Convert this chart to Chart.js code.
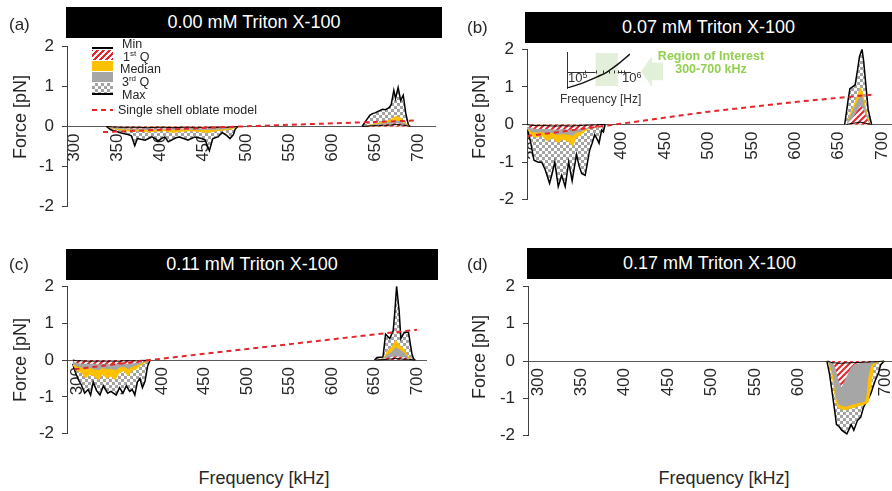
<!DOCTYPE html>
<html><head><meta charset="utf-8">
<script src="https://cdn.jsdelivr.net/npm/chart.js@4.4.1/dist/chart.umd.min.js"></script>
<style>
html,body{margin:0;padding:0;background:#fff;width:892px;height:491px;overflow:hidden;position:relative;font-family:'Liberation Sans',Arial,sans-serif;color:#262626}
canvas{position:absolute}
.t{position:absolute;white-space:nowrap;line-height:1.15}
.bar{position:absolute;background:#000;color:#fff;font-size:18px;display:flex;align-items:center;justify-content:center}
.lab{font-size:17px;transform:translateY(-50%)}
.ylab{font-size:18px;transform:translate(-50%,-50%) rotate(-90deg)}
.xlab{font-size:18px;transform:translate(-50%,-50%)}
.leg{font-size:12.5px;transform:translateY(-50%)}
.leg sup{font-size:8px;vertical-align:5px;line-height:0}
.sw{position:absolute;left:92px;width:21px}
</style>
</head><body>
<script>
// ---------- shared ticks ----------
const xTicks=[300,350,400,450,500,550,600,650,700];
const yTicks=[-2,-1,0,1,2];

// ---------- (a) 0.00 mM ----------
const aNegMaxF=[337,342,347,352,358,362,366,370,373,377,382,386,390,394,397,401,405,409,413,418,422,427,432,436,440,444,448,452,457,461,464,467,472,477,481,485,487,490];
const aNegMaxV=[0,-0.08,-0.11,-0.15,-0.18,-0.2,-0.23,-0.48,-0.3,-0.32,-0.34,-0.3,-0.26,-0.3,-0.37,-0.3,-0.26,-0.38,-0.34,-0.28,-0.26,-0.3,-0.34,-0.3,-0.26,-0.28,-0.3,-0.34,-0.6,-0.3,-0.28,-0.26,-0.15,-0.22,-0.3,-0.2,-0.07,0];
const aNegQF=[337,345,355,365,375,385,395,405,415,425,435,445,455,465,475,485,490];
const aNegMin=[0,-0.01,-0.02,-0.02,-0.02,-0.03,-0.02,-0.02,-0.03,-0.02,-0.02,-0.03,-0.02,-0.02,-0.02,-0.01,0];
const aNegQ1=[0,-0.03,-0.04,-0.05,-0.05,-0.04,-0.05,-0.05,-0.04,-0.05,-0.04,-0.05,-0.05,-0.04,-0.04,-0.02,0];
const aNegMed=[0,-0.07,-0.1,-0.13,-0.12,-0.15,-0.13,-0.12,-0.16,-0.13,-0.12,-0.14,-0.16,-0.12,-0.1,-0.06,0];
const aNegQ3=[0,-0.05,-0.07,-0.08,-0.08,-0.09,-0.08,-0.08,-0.09,-0.08,-0.08,-0.09,-0.09,-0.08,-0.07,-0.04,0];
const aPosMaxF=[635,640,644,647,650,653,656,659,662,665,667,669,672,674,677,680,683,686,689,691];
const aPosMaxV=[0,0.16,0.28,0.32,0.34,0.37,0.4,0.43,0.42,0.45,0.48,0.55,0.9,0.7,0.97,0.65,0.78,0.32,0.04,0];
const aPosQF=[636,642,648,654,660,665,670,675,680,685,689,691];
const aPosMin=[0,0.01,0.02,0.02,0.03,0.03,0.04,0.05,0.04,0.03,0.01,0];
const aPosQ1=[0,0.02,0.03,0.04,0.05,0.06,0.07,0.08,0.07,0.05,0.02,0];
const aPosMed=[0,0.04,0.07,0.1,0.12,0.15,0.2,0.27,0.22,0.12,0.03,0];
const aPosQ3=[0,0.03,0.05,0.07,0.08,0.1,0.12,0.15,0.13,0.08,0.02,0];
const aModelF=[333,492,700];
const aModelV=[-0.14,0,0.15];

// ---------- (b) 0.07 mM ----------
const bNegMaxF=[291,295,299,304,308,312,317,320,323,327,331,335,339,343,348,351,354,358,360,363,366,369,372,374,377,379,381];
const bNegMaxV=[-0.05,-0.45,-0.95,-1.0,-1.0,-1.2,-1.56,-1.3,-1.0,-1.65,-1.35,-1.65,-1.0,-1.5,-0.8,-1.1,-1.3,-1.35,-1.1,-0.7,-0.5,-0.27,-0.4,-0.5,-0.15,-0.2,0];
const bNegQF=[291,296,302,308,314,320,326,332,338,344,348,352,356,360,365,370,375,381];
const bNegMin=[0,-0.02,-0.03,-0.03,-0.03,-0.04,-0.04,-0.03,-0.04,-0.04,-0.03,-0.03,-0.02,-0.02,-0.01,-0.01,0,0];
const bNegQ1=[-0.05,-0.1,-0.12,-0.12,-0.12,-0.13,-0.14,-0.12,-0.14,-0.14,-0.13,-0.12,-0.1,-0.09,-0.08,-0.08,-0.05,0];
const bNegMed=[-0.12,-0.3,-0.35,-0.3,-0.45,-0.35,-0.5,-0.4,-0.45,-0.58,-0.35,-0.3,-0.22,-0.15,-0.1,-0.09,-0.06,0];
const bNegQ3=[-0.1,-0.2,-0.22,-0.2,-0.25,-0.22,-0.28,-0.25,-0.27,-0.3,-0.22,-0.2,-0.15,-0.12,-0.09,-0.085,-0.055,0];
const bPosMaxF=[657,661,663,666,669,672,674,677,679,682,684,688];
const bPosMaxV=[0,0.66,0.95,1.0,1.05,1.48,1.8,2.0,1.65,0.9,0.4,0];
const bPosQF=[659,663,667,671,675,678,681,684,687];
const bPosMin=[0,0.02,0.03,0.05,0.06,0.05,0.03,0.02,0];
const bPosQ1=[0,0.1,0.2,0.35,0.5,0.45,0.25,0.08,0];
const bPosMed=[0,0.3,0.5,0.75,1.0,0.85,0.5,0.2,0];
const bPosQ3=[0,0.22,0.4,0.6,0.78,0.7,0.4,0.12,0];
const bModelF=[291,383,500,600,688];
const bModelV=[-0.31,-0.03,0.34,0.6,0.79];

// ---------- (c) 0.11 mM ----------
const cNegMaxF=[295,298,302,305,309,313,316,319,323,327,331,336,340,346,350,354,358,362,365,368,371,374,377,380,383,386];
const cNegMaxV=[-0.1,-0.33,-0.55,-0.67,-0.9,-0.8,-0.95,-0.6,-0.83,-0.95,-0.7,-0.9,-0.85,-0.95,-0.75,-0.9,-0.7,-0.85,-0.8,-0.95,-0.6,-0.5,-0.75,-0.58,-0.17,0];
const cNegQF=[295,300,305,310,315,320,325,330,335,340,345,350,355,360,365,370,375,380,386];
const cNegMin=[0,-0.02,-0.02,-0.03,-0.03,-0.03,-0.03,-0.03,-0.03,-0.03,-0.03,-0.03,-0.02,-0.02,-0.02,-0.02,-0.01,-0.01,0];
const cNegQ1=[-0.05,-0.08,-0.1,-0.1,-0.11,-0.1,-0.12,-0.1,-0.11,-0.12,-0.1,-0.11,-0.1,-0.1,-0.09,-0.08,-0.06,-0.04,0];
const cNegMed=[-0.15,-0.3,-0.35,-0.5,-0.4,-0.45,-0.55,-0.4,-0.5,-0.45,-0.55,-0.35,-0.3,-0.45,-0.3,-0.25,-0.15,-0.08,0];
const cNegQ3=[-0.1,-0.18,-0.2,-0.25,-0.22,-0.25,-0.28,-0.22,-0.26,-0.24,-0.28,-0.2,-0.18,-0.25,-0.18,-0.15,-0.1,-0.05,0];
const cPosMaxF=[650,653,660,663,668,672,674,676,679,681,685,690,694,696,698];
const cPosMaxV=[0,0.07,0.08,0.7,0.58,0.8,1.33,2.0,1.33,0.58,0.75,0.75,0.17,0.03,0];
const cPosQF=[652,660,665,670,675,680,685,690,694,697];
const cPosMin=[0,0.01,0.02,0.03,0.04,0.03,0.02,0.02,0.01,0];
const cPosQ1=[0,0.03,0.06,0.08,0.1,0.09,0.07,0.05,0.02,0];
const cPosMed=[0,0.05,0.25,0.35,0.55,0.4,0.3,0.1,0.03,0];
const cPosQ3=[0,0.04,0.15,0.22,0.35,0.28,0.2,0.06,0.02,0];
const cModelF=[297,386,500,600,700];
const cModelV=[-0.25,0,0.3,0.56,0.82];

// ---------- (d) 0.17 mM ----------
const dNegMaxF=[633,636,638,640,642,644,647,650,653,656,659,661,664,668,672,675,678,681,684,686,689,692,695,699];
const dNegMaxV=[0,-0.35,-0.68,-1.0,-1.34,-1.7,-1.75,-1.85,-1.9,-1.95,-1.8,-1.7,-1.85,-1.6,-1.5,-1.25,-1.1,-1.0,-0.85,-0.7,-0.5,-0.35,-0.1,0];
const dNegQF=[634,637,640,643,646,650,655,660,665,670,675,678,681,684,687,690,695,699];
const dNegMin=[0,-0.03,-0.05,-0.05,-0.06,-0.06,-0.05,-0.05,-0.04,-0.04,-0.03,-0.03,-0.03,-0.02,-0.02,-0.02,-0.01,0];
const dNegQ1=[0,-0.02,-0.05,-0.2,-0.5,-0.7,-0.45,-0.2,-0.08,-0.06,-0.05,-0.04,-0.04,-0.03,-0.02,-0.02,-0.01,0];
const dNegMed=[-0.05,-0.25,-0.6,-1.1,-1.25,-1.3,-1.32,-1.28,-1.25,-1.2,-1.18,-1.15,-1.1,-0.7,-0.15,-0.06,-0.03,-0.02];
const dNegQ3=[-0.03,-0.15,-0.4,-0.95,-1.15,-1.2,-1.22,-1.18,-1.15,-1.12,-1.1,-1.05,-0.4,-0.12,-0.06,-0.04,-0.02,-0.01];

// ---------- inset (b) ----------
const insetF=[1e5,1.85e5,3.16e5,4.64e5,6.8e5,1.12e6];
const insetV=[-0.5,-0.33,-0.13,0.03,0.27,0.63];
const insetTicks=[2e5,3e5,4e5,5e5,6e5,7e5,8e5,9e5];
const roiBand=[3e5,7e5];

Chart.defaults.font.family="'Liberation Sans', Arial, sans-serif";

function mkPattern(draw,size){const c=document.createElement('canvas');c.width=c.height=size;const g=c.getContext('2d');draw(g,size);return g.createPattern(c,'repeat');}
const HATCH=mkPattern((g,s)=>{g.fillStyle='#fff';g.fillRect(0,0,s,s);g.strokeStyle='#e3262b';g.lineWidth=2;g.beginPath();
  g.moveTo(-1,s+1);g.lineTo(s+1,-1);g.moveTo(-s/2-1,s/2+1);g.lineTo(s/2+1,-s/2-1);g.moveTo(s/2-1,s*1.5+1);g.lineTo(s*1.5+1,s/2-1);g.stroke();},6);
const CHECK=mkPattern((g,s)=>{g.fillStyle='#fff';g.fillRect(0,0,s,s);g.fillStyle='#a3a3a3';g.fillRect(0,0,3,3);g.fillRect(3,3,3,3);},6);

function pts(f,v){return f.map((x,i)=>({x:x,y:v[i]}));}
function region(maxF,maxV,qF,minV,q1V,q3V,medV){
  return [
    {data:pts(qF,minV),borderColor:'#000',borderWidth:1,fill:false},
    {data:pts(qF,q1V),borderWidth:0,borderColor:'rgba(0,0,0,0)',backgroundColor:HATCH,fill:'origin'},
    {data:pts(qF,q3V),borderWidth:0,borderColor:'rgba(0,0,0,0)',backgroundColor:'#a6a6a6',fill:'origin'},
    {data:pts(qF,medV),borderWidth:0,borderColor:'rgba(0,0,0,0)',backgroundColor:'#ffc000',fill:'origin'},
    {data:pts(maxF,maxV),borderColor:'#000',borderWidth:1.5,backgroundColor:CHECK,fill:'origin'}
  ];
}
function model(f,v){return {data:pts(f,v),borderColor:'#e3262b',borderWidth:2,borderDash:[5,4],fill:false};}

function panel(spec){
  const YW=45,PT=12,PB=12,PR=22;
  const cv=document.createElement('canvas');
  const w=spec.right-spec.left+YW+PR,h=spec.bottom-spec.top+PT+PB;
  cv.width=w;cv.height=h;cv.style.width=w+'px';cv.style.height=h+'px';
  cv.style.left=(spec.left-YW)+'px';cv.style.top=(spec.top-PT)+'px';
  document.body.appendChild(cv);
  new Chart(cv,{type:'line',data:{datasets:spec.datasets},options:{
    responsive:false,animation:false,
    layout:{padding:{left:0,top:PT,right:PR,bottom:PB}},
    plugins:{legend:{display:false},tooltip:{enabled:false}},
    elements:{point:{radius:0},line:{tension:0}},
    scales:{
      x:{type:'linear',position:{y:0},min:spec.xmin,max:spec.xmax,
        afterBuildTicks:s=>{s.ticks=xTicks.map(v=>({value:v}));},
        grid:{display:false,drawTicks:false},border:{color:'#595959',width:1},
        ticks:{minRotation:90,maxRotation:90,padding:7,autoSkip:false,color:'#262626',font:{size:17}},z:1},
      y:{type:'linear',min:-2,max:2,
        afterBuildTicks:s=>{s.ticks=yTicks.map(v=>({value:v}));},
        afterFit:s=>{s.width=YW;},
        grid:{drawOnChartArea:false,tickLength:5,color:'#404040'},border:{color:'#404040',width:1},
        ticks:{padding:8,color:'#262626',font:{size:17}},z:1}
    }}});
}

panel({left:67,right:435,top:40,bottom:213,xmin:291,xmax:720,datasets:[model(aModelF,aModelV)]
  .concat(region(aNegMaxF,aNegMaxV,aNegQF,aNegMin,aNegQ1,aNegQ3,aNegMed))
  .concat(region(aPosMaxF,aPosMaxV,aPosQF,aPosMin,aPosQ1,aPosQ3,aPosMed))});
panel({left:527,right:892,top:43,bottom:206,xmin:291,xmax:711.5,datasets:[model(bModelF,bModelV)]
  .concat(region(bNegMaxF,bNegMaxV,bNegQF,bNegMin,bNegQ1,bNegQ3,bNegMed))
  .concat(region(bPosMaxF,bPosMaxV,bPosQF,bPosMin,bPosQ1,bPosQ3,bPosMed))});
panel({left:67,right:426,top:280,bottom:440,xmin:288.2,xmax:710.6,datasets:[model(cModelF,cModelV)]
  .concat(region(cNegMaxF,cNegMaxV,cNegQF,cNegMin,cNegQ1,cNegQ3,cNegMed))
  .concat(region(cPosMaxF,cPosMaxV,cPosQF,cPosMin,cPosQ1,cPosQ3,cPosMed))});
panel({left:528,right:892,top:280,bottom:442,xmin:288.5,xmax:708,datasets:
  region(dNegMaxF,dNegMaxV,dNegQF,dNegMin,dNegQ1,dNegQ3,dNegMed)});

// inset chart in (b)
(function(){
  const cv=document.createElement('canvas');
  cv.width=80;cv.height=50;cv.style.width='80px';cv.style.height='50px';cv.style.left='557px';cv.style.top='45px';
  document.body.appendChild(cv);
  const deco={id:'insetDeco',
    beforeDatasetsDraw(c){const x=c.scales.x,a=c.chartArea,g=c.ctx;g.save();g.fillStyle='#e3eedb';
      const x0=x.getPixelForValue(roiBand[0]),x1=x.getPixelForValue(roiBand[1]);
      g.fillRect(x0,a.top+1,x1-x0,a.bottom-a.top-3);g.restore();},
    afterDraw(c){const x=c.scales.x,y=c.scales.y,g=c.ctx;const y0=Math.round(y.getPixelForValue(0))+0.5;
      g.save();g.strokeStyle='#333';g.lineWidth=1;g.beginPath();
      insetTicks.forEach(v=>{const px=Math.round(x.getPixelForValue(v))+0.5;g.moveTo(px,y0);g.lineTo(px,y0-3);});
      g.stroke();g.restore();}
  };
  new Chart(cv,{type:'line',data:{datasets:[{data:pts(insetF,insetV),borderColor:'#111',borderWidth:1.5,fill:false,cubicInterpolationMode:'monotone'}]},
    plugins:[deco],
    options:{responsive:false,animation:false,layout:{padding:{left:10,top:7,right:7,bottom:7}},
      plugins:{legend:{display:false},tooltip:{enabled:false}},elements:{point:{radius:0}},
      scales:{
        x:{type:'logarithmic',position:{y:0},min:1e5,max:1.12e6,grid:{display:false,drawTicks:false},ticks:{display:false},border:{color:'#333',width:1}},
        y:{type:'linear',min:-0.5,max:0.7,afterFit:s=>{s.width=0;},grid:{display:false,drawTicks:false},ticks:{display:false},border:{color:'#333',width:1}}
      }}});
})();
</script>

<!-- title bars -->
<div class="bar" style="left:66px;top:7px;width:376px;height:31px">0.00 mM Triton X-100</div>
<div class="bar" style="left:525px;top:12px;width:367px;height:31px">0.07 mM Triton X-100</div>
<div class="bar" style="left:66px;top:249px;width:372px;height:31px">0.11 mM Triton X-100</div>
<div class="bar" style="left:527px;top:248px;width:365px;height:31px">0.17 mM Triton X-100</div>

<!-- panel letters -->
<div class="t lab" style="left:9px;top:25px">(a)</div>
<div class="t lab" style="left:467px;top:28px">(b)</div>
<div class="t lab" style="left:9px;top:265px">(c)</div>
<div class="t lab" style="left:467px;top:265px">(d)</div>

<!-- axis titles -->
<div class="t ylab" style="left:20px;top:117px">Force [pN]</div>
<div class="t ylab" style="left:479px;top:117px">Force [pN]</div>
<div class="t ylab" style="left:20px;top:360px">Force [pN]</div>
<div class="t ylab" style="left:479px;top:357px">Force [pN]</div>
<div class="t xlab" style="left:264px;top:478px">Frequency [kHz]</div>
<div class="t xlab" style="left:724px;top:478px">Frequency [kHz]</div>

<!-- legend (a) -->
<div class="sw" style="top:47px;height:2px;background:#000"></div>
<div class="sw" style="top:50px;height:10px;background:repeating-linear-gradient(-45deg,#e3262b 0 2px,#fff 2px 4.2px)"></div>
<div class="sw" style="top:61px;height:10px;background:#ffc000"></div>
<div class="sw" style="top:72px;height:10px;background:#a6a6a6"></div>
<div class="sw" style="top:83px;height:10px;background-image:conic-gradient(#a3a3a3 25%,#fff 0 50%,#a3a3a3 0 75%,#fff 0);background-size:6px 6px"></div>
<div class="sw" style="top:93px;height:2px;background:#000"></div>
<div class="t leg" style="left:122px;top:44px">Min</div>
<div class="t leg" style="left:123px;top:57px">1<sup>st</sup> Q</div>
<div class="t leg" style="left:120px;top:69px">Median</div>
<div class="t leg" style="left:122px;top:82px">3<sup>rd</sup> Q</div>
<div class="t leg" style="left:122px;top:95px">Max</div>
<div class="sw" style="top:109px;height:2px;background:repeating-linear-gradient(90deg,#e3262b 0 5px,transparent 5px 9px)"></div>
<div class="t leg" style="left:118px;top:110px">Single shell oblate model</div>

<!-- inset annotations (b) -->
<div class="t" style="left:568px;top:71px;font-size:13px;color:#333;line-height:1">10<sup style="font-size:9px;vertical-align:4px;line-height:0">5</sup></div>
<div class="t" style="left:622px;top:71px;font-size:13px;color:#333;line-height:1">10<sup style="font-size:9px;vertical-align:4px;line-height:0">6</sup></div>
<div class="t" style="left:560px;top:100px;font-size:12px;color:#333;transform:translateY(-50%)">Frequency [Hz]</div>
<div style="position:absolute;left:641px;top:56px;width:22px;height:31px;background:#e2efd9;clip-path:polygon(0 50%,50% 0,50% 22%,100% 22%,100% 78%,50% 78%,50% 100%)"></div>
<div class="t" style="left:711px;top:56px;font-size:12.5px;font-weight:bold;color:#92d050;transform:translate(-50%,-50%)">Region of Interest</div>
<div class="t" style="left:711px;top:69px;font-size:12.5px;font-weight:bold;color:#92d050;transform:translate(-50%,-50%)">300-700 kHz</div>
</body></html>
